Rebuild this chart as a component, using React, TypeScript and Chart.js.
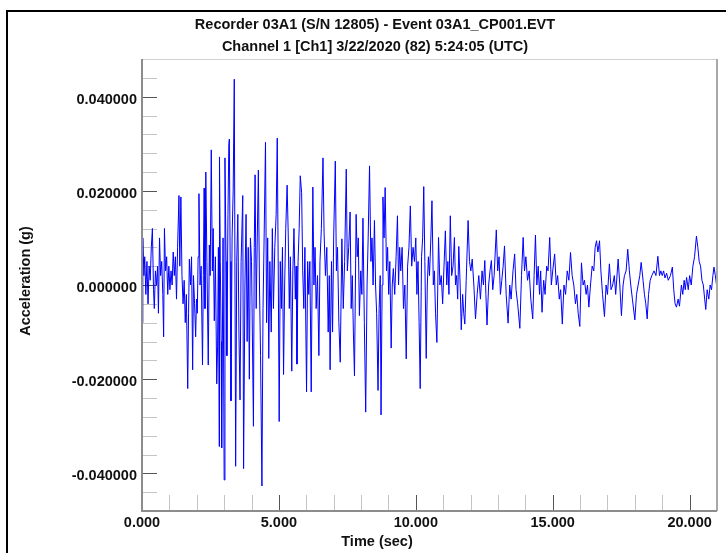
import React, { useEffect, useRef } from "react";
import { Chart, registerables } from "chart.js";

Chart.register(...registerables);

// ---------- Text ----------
const TITLE_LINES = [
  "Recorder 03A1 (S/N 12805) - Event 03A1_CP001.EVT",
  "Channel 1 [Ch1] 3/22/2020 (82) 5:24:05 (UTC)",
];
const X_TITLE = "Time (sec)";
const Y_TITLE = "Acceleration (g)";

// ---------- Axes ----------
const X_MIN = 0;
const X_MAX = 21;
const X_STEP = 1; // minor tick every 1 s
const X_LABEL_EVERY = 5; // labelled major tick
const Y_MIN = -0.048;
const Y_MAX = 0.048;
const Y_STEP = 0.004; // minor tick
const Y_LABEL_EVERY = 0.02; // labelled major tick

// ---------- Data: [time (s), acceleration (milli-g)] ----------
const preEvent: [number, number][] = [
  [0.0, -8], [0.03, 10], [0.07, 2], [0.1, 6], [0.14, -2], [0.18, 5], [0.22, -4], [0.26, 4],
  [0.3, 1], [0.34, 8], [0.38, 12], [0.42, -1], [0.45, -5], [0.49, 3], [0.53, 0], [0.57, 4],
  [0.6, -6], [0.64, 10], [0.68, 2], [0.72, 5], [0.76, -2], [0.79, -11], [0.82, 12], [0.86, 3],
  [0.9, 6], [0.94, -2], [0.98, 4], [1.02, -1], [1.06, 3], [1.1, 0], [1.14, 7], [1.18, 2],
  [1.22, 6], [1.26, -3],
];

const strongMotion: [number, number][] = [
  [1.3, 8], [1.35, 19], [1.38, 4], [1.42, 18.7], [1.46, 2], [1.5, -4], [1.54, 1], [1.58, -8],
  [1.62, -2], [1.67, -22], [1.7, -6], [1.73, 5.5], [1.77, 0], [1.81, 6], [1.85, -18], [1.88, 2],
  [1.92, -4], [1.96, -11], [1.99, -3], [2.02, -6], [2.05, 6], [2.08, 19.4], [2.12, 0], [2.16, 4],
  [2.21, -17], [2.24, 2], [2.27, 20.6], [2.3, -5], [2.33, 24], [2.37, 5], [2.42, -17], [2.46, 8.5],
  [2.49, 2], [2.53, 28.7], [2.57, 3], [2.6, 12], [2.64, -7.6], [2.68, 6], [2.73, -21], [2.76, -13],
  [2.79, 8], [2.82, -34.3], [2.83, 27.2], [2.86, 5], [2.89, -12], [2.91, -34.6], [2.96, 10], [3.0, -41.4],
  [3.03, 27], [3.07, 5], [3.1, -15], [3.14, 15], [3.17, 29.7], [3.19, 31], [3.22, 5], [3.25, -24.6],
  [3.29, 10], [3.33, 20], [3.37, 43.7], [3.42, -38.5], [3.46, 5], [3.5, 15], [3.54, -10], [3.58, -24.4],
  [3.62, 5], [3.68, 19], [3.71, -39], [3.76, 0], [3.8, 15], [3.84, -12], [3.88, 8], [3.92, -20],
  [3.96, 10], [4.0, 5], [4.03, -10], [4.07, -30], [4.1, 8], [4.13, 23.4], [4.17, -5], [4.21, 10],
  [4.25, 24.4], [4.29, 0], [4.33, -15], [4.38, -42.7], [4.42, -5], [4.46, 10], [4.51, 30.3], [4.55, -8],
  [4.59, 10], [4.63, -15.6], [4.67, 5], [4.72, -10], [4.76, 12], [4.8, -5], [4.85, 8], [4.9, 15],
  [4.94, 31.2], [4.98, 0], [5.01, -29], [5.05, 5], [5.09, -5], [5.13, 8], [5.17, -19], [5.21, 0],
  [5.25, 12], [5.3, 21.2], [5.34, 11], [5.38, -5], [5.42, 6], [5.47, -18.3], [5.51, 3], [5.55, 12],
  [5.6, -3], [5.63, 4], [5.66, -16.8], [5.7, 5], [5.74, 12], [5.78, 23.2], [5.83, 19.6], [5.87, 3],
  [5.91, -5], [5.95, 8], [6.01, -22.7], [6.05, 5], [6.09, -2], [6.13, 5], [6.18, -22.7], [6.24, 20.8],
  [6.28, 0], [6.32, 8], [6.36, -5], [6.41, 2], [6.46, -15], [6.5, 5], [6.55, 12], [6.61, 27],
  [6.65, 11], [6.7, 2], [6.75, 8], [6.8, -10], [6.84, 2], [6.87, -18], [6.92, 5], [6.96, -10],
  [7.0, 10], [7.06, 26.3], [7.1, 3], [7.14, 8], [7.19, -8], [7.24, -16.4], [7.3, 9.8], [7.35, -5],
  [7.4, 5], [7.46, 24.6], [7.5, 3], [7.55, 8], [7.6, 15.5], [7.64, -5], [7.68, 2], [7.72, -10],
  [7.76, -19.3], [7.82, 15], [7.86, 6], [7.9, 10], [7.94, -6.5], [7.99, 3], [8.03, -2], [8.07, 14.2],
  [8.12, -8], [8.17, -27], [8.22, 0], [8.26, 10], [8.31, 25.3], [8.36, 5], [8.4, 10], [8.44, 0],
  [8.49, 13.7], [8.53, 0], [8.57, -6], [8.62, -22.4], [8.66, -5], [8.7, 2], [8.73, -27.6], [8.77, 0],
  [8.8, 18.7], [8.84, 10], [8.88, 20.7], [8.93, 3], [8.97, 8], [9.01, -2], [9.05, 5], [9.1, -13.4],
  [9.14, 0], [9.18, 3.5], [9.23, -2], [9.28, 6], [9.33, 14.7], [9.37, 0], [9.41, 8], [9.45, 3],
  [9.5, 8], [9.55, -5], [9.6, 0], [9.65, -15.7], [9.7, 4], [9.75, 8], [9.8, 16.8],
];

const coda: [number, number][] = [
  [9.85, 4], [9.9, 8], [9.95, 5], [10.0, 10], [10.04, -2], [10.08, 5], [10.12, -8], [10.16, -22],
  [10.21, 6], [10.25, 10], [10.29, 20.9], [10.33, 5], [10.38, -15.6], [10.42, 0], [10.46, 6], [10.5, 2],
  [10.55, 10], [10.59, 17.9], [10.64, 0], [10.68, 3], [10.72, -6], [10.77, -12.2], [10.83, 10.1], [10.88, 0],
  [10.93, 2], [10.98, -4], [11.03, 4], [11.08, 11.5], [11.13, 0], [11.17, 5], [11.21, -2], [11.26, 14.7],
  [11.31, 2], [11.36, 4], [11.41, 10.1], [11.45, 0], [11.49, 2], [11.53, -3], [11.57, 8.2], [11.62, 0],
  [11.66, -9.5], [11.71, -2], [11.75, -6], [11.79, -8.3], [11.84, 1], [11.91, 13.7], [11.96, 5], [12.01, 3],
  [12.06, 5.5], [12.12, 0], [12.18, -7.2], [12.24, -2], [12.3, 2], [12.36, -3], [12.42, 3], [12.47, 0],
  [12.52, 5.2], [12.56, -2], [12.6, -8.5], [12.66, 0], [12.71, 3], [12.76, 5.2], [12.81, -1], [12.86, 2],
  [12.94, 11.7], [12.99, 3], [13.04, 6], [13.09, -2], [13.14, 1], [13.19, 4], [13.24, 8.3], [13.3, -2],
  [13.37, -8.1], [13.43, 0], [13.48, -3], [13.55, 3], [13.61, 6.6], [13.66, -1], [13.72, -4], [13.8, -9.2],
  [13.86, 2], [13.92, 10.1], [13.97, 3], [14.02, 6], [14.08, 1], [14.14, 3], [14.2, -3], [14.27, -7.2],
  [14.32, 2], [14.37, 10.6], [14.42, 0], [14.47, 4], [14.52, -2], [14.56, 3], [14.61, -5.8], [14.67, 1],
  [14.72, -2], [14.78, 4], [14.83, 3], [14.89, 10.1], [14.95, 0], [15.0, 3], [15.07, 6.6], [15.13, 0],
  [15.18, 2], [15.24, -3], [15.29, -1], [15.35, -8.3], [15.41, 0], [15.47, -2], [15.53, 3], [15.59, 1],
  [15.65, 6.9], [15.71, 2], [15.77, 0], [15.83, -4], [15.88, -2], [15.93, -6], [15.99, -8.8], [16.05, 4.7],
  [16.11, 0], [16.16, 1], [16.22, -2], [16.27, 0], [16.32, -4.7], [16.38, 0], [16.44, 4], [16.5, 3],
  [16.55, 8], [16.6, 9.4], [16.65, 7], [16.71, 9.4], [16.76, 3], [16.82, -2], [16.89, -6.7], [16.95, 0],
  [17.0, -2], [17.07, 4.5], [17.13, -1], [17.19, 0], [17.25, 2], [17.3, -2], [17.39, 5.5], [17.45, 0],
  [17.51, -6.5], [17.57, 0], [17.62, 2], [17.68, 3], [17.74, 7.6], [17.8, 3], [17.85, 0], [17.91, -3],
  [18.0, -7.4], [18.06, -2], [18.12, 0], [18.18, 2], [18.23, 4.8], [18.3, 1], [18.35, -2], [18.4, -4],
  [18.45, -7.2], [18.5, -2], [18.56, 1], [18.62, 2], [18.7, 3], [18.77, 2], [18.84, 6.1], [18.9, 2],
  [18.95, 3], [19.0, 2], [19.05, 3], [19.1, 1.5], [19.16, 2.5], [19.22, 1], [19.3, 2], [19.37, 3.8],
  [19.42, -1], [19.47, -4], [19.52, -4.7], [19.58, -3], [19.63, -4.5], [19.7, 0], [19.75, -2], [19.8, 1],
  [19.84, -1], [19.89, 1.6], [19.95, -1], [20.0, 2], [20.06, 0], [20.12, 4], [20.18, 6], [20.25, 10.4],
  [20.3, 8], [20.35, 5], [20.4, 4], [20.45, 1], [20.5, 0], [20.55, -3], [20.59, -5.2], [20.64, -1],
  [20.7, -3], [20.75, 0], [20.8, -1], [20.85, 2], [20.89, 3.8], [20.94, 2], [21.0, -0.8],
];

const FONT_FAMILY = "'Liberation Sans', Arial, Helvetica, sans-serif";

function isMultiple(v: number, step: number) {
  const k = v / step;
  return Math.abs(k - Math.round(k)) < 1e-6;
}

const decorPlugin = {
  id: "decor",
  beforeDraw(chart: any) {
    const { ctx, width, height } = chart;
    ctx.save();
    ctx.fillStyle = "#ffffff";
    ctx.fillRect(0, 0, width, height);
    // outer frame (left & top edges visible)
    ctx.fillStyle = "#000000";
    ctx.fillRect(6, 10, 2, height - 10);
    ctx.fillRect(6, 10, width - 6, 2);
    // titles
    ctx.font = `bold 14.5px ${FONT_FAMILY}`;
    ctx.textAlign = "center";
    ctx.textBaseline = "middle";
    ctx.fillStyle = "#111111";
    ctx.fillText(TITLE_LINES[0], 375, 25);
    ctx.fillText(TITLE_LINES[1], 375, 47);
    ctx.fillText(X_TITLE, 377, 542);
    ctx.save();
    ctx.translate(26, 281);
    ctx.rotate(-Math.PI / 2);
    ctx.fillText(Y_TITLE, 0, 0);
    ctx.restore();
    ctx.restore();
  },
  beforeDatasetsDraw(chart: any) {
    const { ctx, chartArea } = chart;
    const { left, bottom } = chartArea;
    const xs = chart.scales.x;
    const ys = chart.scales.y;
    ctx.save();
    ctx.lineWidth = 1;
    ys.ticks.forEach((t: any) => {
      if (t.value <= Y_MIN + 1e-9 || t.value >= Y_MAX - 1e-9) return;
      const y = Math.round(ys.getPixelForValue(t.value)) + 0.5;
      ctx.strokeStyle = isMultiple(t.value, Y_LABEL_EVERY) ? "#555555" : "#c4c4c4";
      ctx.beginPath();
      ctx.moveTo(left, y);
      ctx.lineTo(left + 15, y);
      ctx.stroke();
    });
    xs.ticks.forEach((t: any) => {
      if (t.value >= X_MAX - 1e-9) return;
      const x = Math.round(xs.getPixelForValue(t.value)) + 0.5;
      ctx.strokeStyle = isMultiple(t.value, X_LABEL_EVERY) ? "#555555" : "#c4c4c4";
      ctx.beginPath();
      ctx.moveTo(x, bottom);
      ctx.lineTo(x, bottom - 16);
      ctx.stroke();
    });
    ctx.restore();
  },
  afterDatasetsDraw(chart: any) {
    const { ctx, chartArea } = chart;
    const { left, right, top, bottom } = chartArea;
    ctx.save();
    ctx.fillStyle = "#d0d0d0";
    ctx.fillRect(left, top, right - left, 1);
    ctx.fillStyle = "#a8a8a8";
    ctx.fillRect(right - 1, top, 2, bottom - top);
    ctx.fillStyle = "#8c8c8c";
    ctx.fillRect(left - 1, top, 2, bottom - top + 1);
    ctx.fillRect(left - 1, bottom - 1, right - left + 1, 2);
    ctx.restore();
  },
};

export default function App() {
  const canvasRef = useRef<HTMLCanvasElement | null>(null);

  useEffect(() => {
    if (!canvasRef.current) return;
    const points = [...preEvent, ...strongMotion, ...coda].map(([t, mg]) => ({
      x: t,
      y: mg / 1000,
    }));
    const tickFont = { family: FONT_FAMILY, size: 14.5, weight: "bold" as const };
    const chart = new Chart(canvasRef.current, {
      type: "line",
      data: {
        datasets: [
          {
            label: "Channel 1",
            data: points,
            borderColor: "#0000ff",
            borderWidth: 1,
            pointRadius: 0,
            tension: 0,
            fill: false,
          },
        ],
      },
      options: {
        animation: false,
        responsive: false,
        maintainAspectRatio: false,
        events: [],
        layout: { padding: { left: 0, top: 59, right: 9, bottom: 0 } },
        plugins: {
          legend: { display: false },
          title: { display: false },
          tooltip: { enabled: false },
        },
        scales: {
          x: {
            type: "linear",
            min: X_MIN,
            max: X_MAX,
            grid: { display: false, drawTicks: false, tickLength: 0 },
            border: { display: false },
            ticks: {
              stepSize: X_STEP,
              autoSkip: false,
              maxRotation: 0,
              minRotation: 0,
              padding: 3,
              color: "#111111",
              font: tickFont,
              callback: (v: any) => (isMultiple(Number(v), X_LABEL_EVERY) ? Number(v).toFixed(3) : ""),
            },
            afterFit: (scale: any) => {
              scale.height = 42;
            },
          },
          y: {
            type: "linear",
            min: Y_MIN,
            max: Y_MAX,
            grid: { display: false, drawTicks: false, tickLength: 0 },
            border: { display: false },
            ticks: {
              stepSize: Y_STEP,
              maxTicksLimit: 100,
              autoSkip: false,
              padding: 5,
              labelOffset: 3,
              color: "#111111",
              font: tickFont,
              callback: (v: any) => {
                const n = Number(v);
                if (!isMultiple(n, Y_LABEL_EVERY)) return "";
                const k = Math.round(n / Y_LABEL_EVERY);
                return (k * Y_LABEL_EVERY).toFixed(6);
              },
            },
            afterFit: (scale: any) => {
              scale.width = 142;
            },
          },
        },
      },
      plugins: [decorPlugin],
    });
    return () => chart.destroy();
  }, []);

  return (
    <div style={{ position: "absolute", left: 0, top: 0, width: 726, height: 553, overflow: "hidden", background: "#fff" }}>
      <canvas ref={canvasRef} width={726} height={553} style={{ display: "block", width: 726, height: 553 }} />
    </div>
  );
}
